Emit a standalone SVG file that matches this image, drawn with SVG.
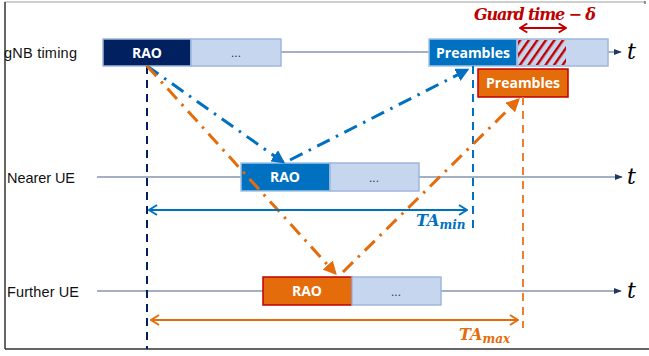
<svg xmlns="http://www.w3.org/2000/svg" width="649" height="356" viewBox="0 0 649 356">
<style>
.lbl{font-family:"Liberation Sans",Arial,sans-serif;font-size:14.5px;fill:#111}
.btxt{font-family:"Open Sans","Liberation Sans",Arial,sans-serif;font-size:14px;font-weight:bold;fill:#fff;text-anchor:middle}
.dots{font-family:"Liberation Sans",Arial,sans-serif;font-size:12px;fill:#1f3864;text-anchor:middle}
.math{font-family:"DejaVu Serif","Liberation Serif",serif;font-style:italic;font-weight:bold}
.t{font-family:"DejaVu Serif","Liberation Serif",serif;font-style:italic;font-size:22px;fill:#000}
.tl{stroke:#8496b0;stroke-width:1.5;fill:none}
.light{fill:#c5d6ee;stroke:#9fb6dc;stroke-width:1.5}
.blue{fill:#0070c0;stroke:#9fc3e6;stroke-width:1.5}
.orng{fill:#e46c0a;stroke:#c00000;stroke-width:1.5}
.dd{stroke-width:3;fill:none;stroke-dasharray:14 7 2.5 7}
</style>
<defs>
<marker id="ah" viewBox="0 0 10 10" refX="9" refY="5" markerWidth="8" markerHeight="8" orient="auto-start-reverse" markerUnits="userSpaceOnUse"><path d="M0,1 L10,5 L0,9 Z" fill="#1f3864"/></marker>
<marker id="abl" viewBox="0 0 10 10" refX="8" refY="5" markerWidth="4.5" markerHeight="4.5" orient="auto" markerUnits="strokeWidth"><path d="M0,0 L10,5 L0,10 Z" fill="#0070c0"/></marker>
<marker id="aor" viewBox="0 0 10 10" refX="8" refY="5" markerWidth="4.5" markerHeight="4.5" orient="auto" markerUnits="strokeWidth"><path d="M0,0 L10,5 L0,10 Z" fill="#e46c0a"/></marker>
<marker id="cbl" viewBox="0 0 12 12" refX="11" refY="6" markerWidth="12" markerHeight="12" orient="auto-start-reverse" markerUnits="userSpaceOnUse"><path d="M3,1 L11,6 L3,11" fill="none" stroke="#0070c0" stroke-width="2"/></marker>
<marker id="cor" viewBox="0 0 12 12" refX="11" refY="6" markerWidth="12" markerHeight="12" orient="auto-start-reverse" markerUnits="userSpaceOnUse"><path d="M3,1 L11,6 L3,11" fill="none" stroke="#e46c0a" stroke-width="2"/></marker>
<marker id="crd" viewBox="0 0 12 12" refX="11" refY="6" markerWidth="11" markerHeight="11" orient="auto-start-reverse" markerUnits="userSpaceOnUse"><path d="M3,1 L11,6 L3,11" fill="none" stroke="#c00000" stroke-width="2"/></marker>
<pattern id="hatch" width="7" height="7" patternUnits="userSpaceOnUse" patternTransform="rotate(35)"><rect width="7" height="7" fill="#c5d6ee"/><line x1="1" y1="0" x2="1" y2="7" stroke="#c00000" stroke-width="2.8"/></pattern>
</defs>

<g id="frame">
<line x1="5" y1="2" x2="645" y2="2" stroke="#bfbfbf" stroke-width="1.5"/>
<line x1="645" y1="1" x2="645" y2="4" stroke="#333" stroke-width="1"/>
<line x1="5" y1="2" x2="5" y2="349" stroke="#333" stroke-width="1.5"/>
<line x1="5" y1="349" x2="649" y2="349" stroke="#333" stroke-width="1.5"/>
</g>

<g id="timelines">
<line class="tl" x1="281" y1="52" x2="621" y2="52" marker-end="url(#ah)"/>
<line class="tl" x1="97" y1="177" x2="622" y2="177" marker-end="url(#ah)"/>
<line class="tl" x1="97" y1="291" x2="621" y2="291" marker-end="url(#ah)"/>
<text class="t" x="627" y="59">t</text>
<text class="t" x="627" y="184">t</text>
<text class="t" x="627" y="298">t</text>
</g>

<g id="label-gnb"><text class="lbl" x="4" y="58" textLength="73">gNB timing</text></g>
<g id="label-nearer"><text class="lbl" x="7" y="183" textLength="68">Nearer UE</text></g>
<g id="label-further"><text class="lbl" x="7" y="297" textLength="72">Further UE</text></g>

<g id="gnb-rao"><rect x="103" y="39" width="88" height="27" fill="#002060" stroke="#9fb6dc" stroke-width="1.5"/><text class="btxt" x="147" y="58">RAO</text></g>
<g id="gnb-dots"><rect class="light" x="191" y="39" width="90" height="27"/><text class="dots" x="236" y="57">...</text></g>
<g id="gnb-preambles"><rect class="blue" x="429" y="39" width="88" height="27"/><text class="btxt" x="473" y="58">Preambles</text></g>
<g id="gnb-guard"><rect class="light" x="517" y="39" width="91" height="27"/><rect x="518" y="40" width="48" height="25" fill="url(#hatch)"/></g>
<g id="guard-label">
<text class="math" x="474" y="20" font-size="16" fill="#c00000" textLength="122">Guard time − δ</text>
<line x1="520" y1="28" x2="566" y2="28" stroke="#c00000" stroke-width="2" marker-start="url(#crd)" marker-end="url(#crd)"/>
</g>
<g id="orange-preambles"><rect class="orng" x="478" y="69" width="90" height="28"/><text class="btxt" x="523" y="88">Preambles</text></g>

<g id="near-rao"><rect class="blue" x="241" y="163" width="89" height="28"/><text class="btxt" x="285" y="182">RAO</text></g>
<g id="near-dots"><rect class="light" x="330" y="163" width="89" height="28"/><text class="dots" x="374" y="182">...</text></g>

<g id="far-rao"><rect class="orng" x="263" y="277" width="89" height="28"/><text class="btxt" x="307" y="296">RAO</text></g>
<g id="far-dots"><rect class="light" x="352" y="277" width="89" height="28"/><text class="dots" x="396" y="296">...</text></g>

<g id="connectors">
<line x1="147" y1="66" x2="147" y2="349" stroke="#002060" stroke-width="2" stroke-dasharray="8 6"/>
<line x1="473" y1="66" x2="473" y2="228" stroke="#0070c0" stroke-width="2" stroke-dasharray="8 6"/>
<line x1="523" y1="97" x2="523" y2="328" stroke="#ed7d31" stroke-width="2" stroke-dasharray="8 6"/>
<line class="dd" x1="147" y1="66" x2="283" y2="162" stroke="#0070c0" marker-end="url(#abl)"/>
<line class="dd" x1="290" y1="160" x2="467" y2="70" stroke="#0070c0" marker-end="url(#abl)"/>
<line class="dd" x1="147" y1="66" x2="335" y2="273" stroke="#e46c0a" marker-end="url(#aor)"/>
<line class="dd" x1="343" y1="272" x2="518" y2="100" stroke="#e46c0a" marker-end="url(#aor)"/>
<line x1="149" y1="210" x2="467" y2="210" stroke="#0070c0" stroke-width="2" marker-start="url(#cbl)" marker-end="url(#cbl)"/>
<line x1="151" y1="320" x2="518" y2="320" stroke="#e46c0a" stroke-width="2" marker-start="url(#cor)" marker-end="url(#cor)"/>
</g>
<g id="ta-labels">
<text class="math" x="416" y="226" font-size="16" fill="#0070c0">TA<tspan font-size="12" dy="3">min</tspan></text>
<text class="math" x="459" y="340" font-size="16" fill="#e46c0a">TA<tspan font-size="12" dy="3">max</tspan></text>
</g>
</svg>
